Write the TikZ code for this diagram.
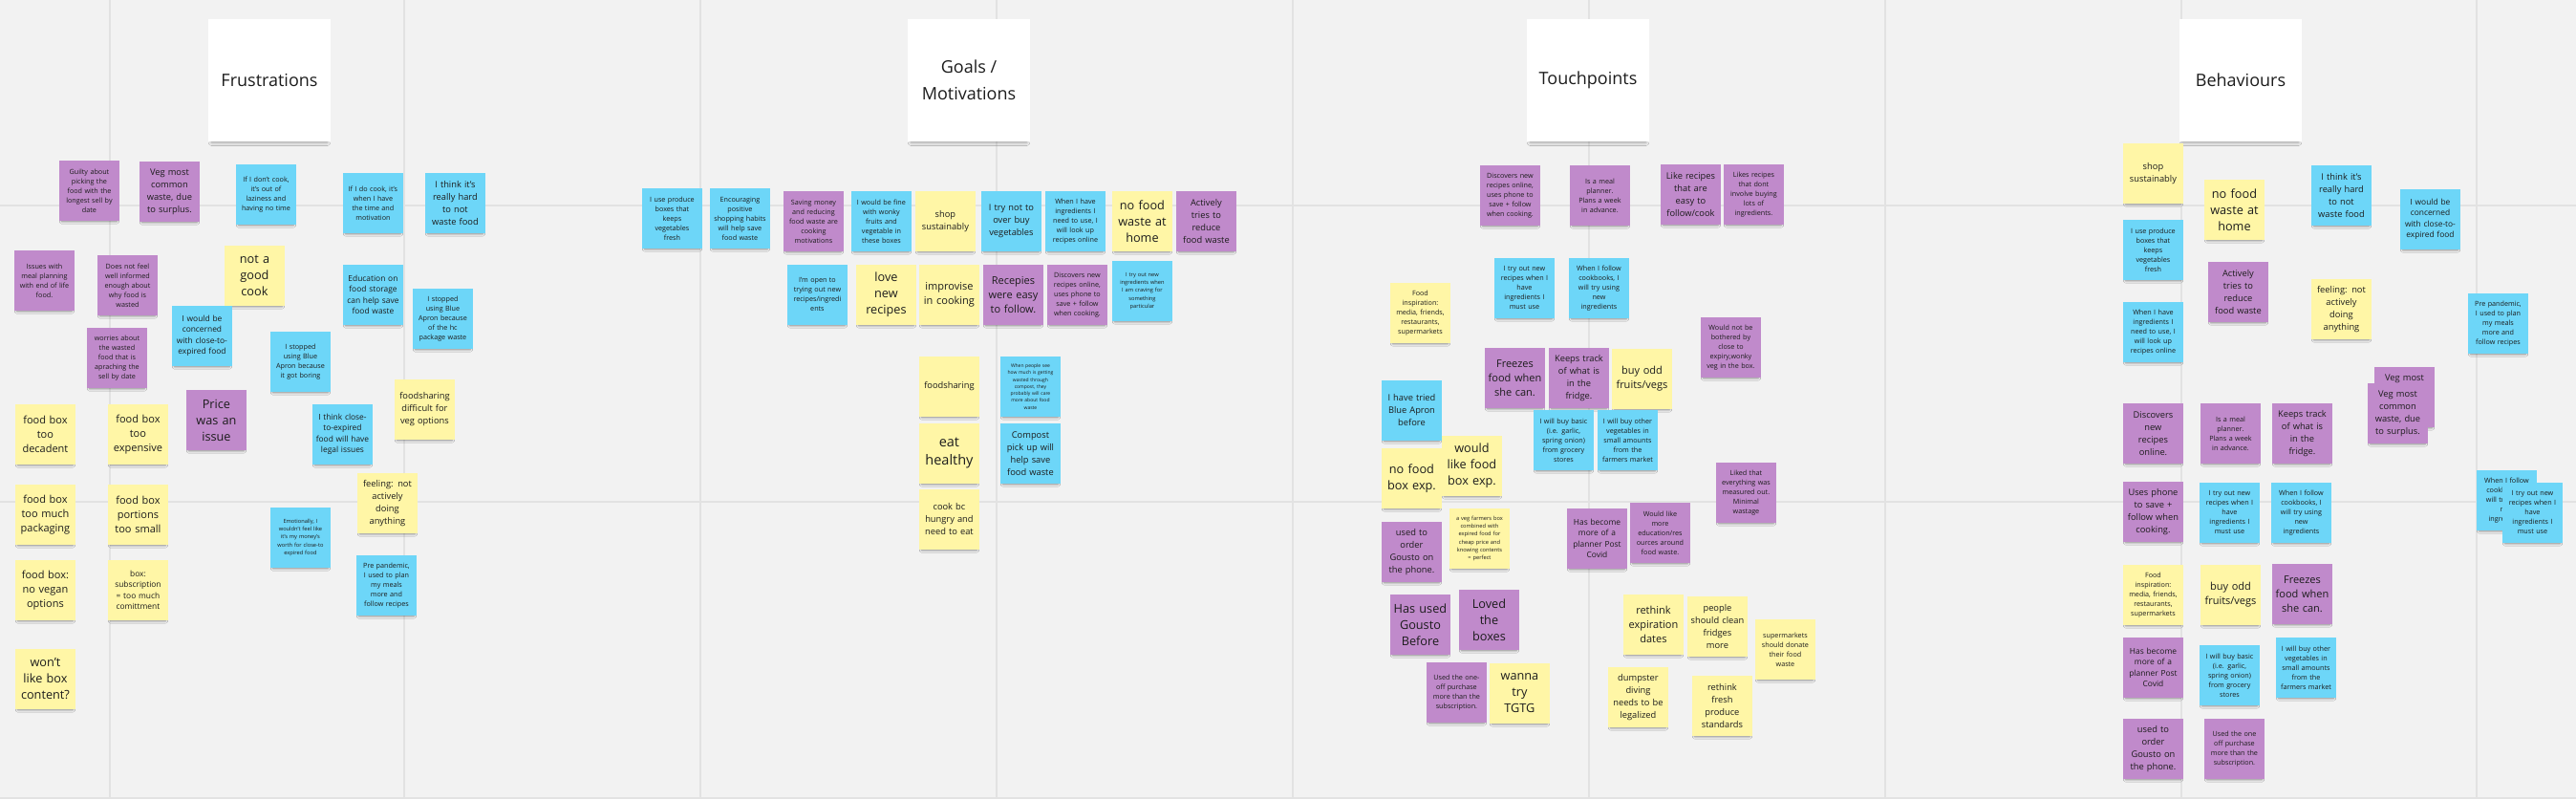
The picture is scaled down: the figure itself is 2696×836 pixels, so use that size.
\documentclass[tikz,border=0pt]{standalone}
\usepackage{fontspec}
\setmainfont{Open Sans}
\usetikzlibrary{shadows,shadows.blur}
\definecolor{bgc}{HTML}{F2F2F2}
\definecolor{gridc}{HTML}{E2E2E2}
\definecolor{noteY}{HTML}{FFF6A6}
\definecolor{noteB}{HTML}{6DD6F8}
\definecolor{noteP}{HTML}{C08ACB}
\definecolor{txt}{HTML}{1C1C1C}
\tikzset{
  gridl/.style={draw=gridc, line width=2pt},
  sticky/.style={anchor=north west, minimum width=62.5pt, minimum height=62.5pt,
    inner sep=0pt, text width=60pt, align=center, text=txt,
    blur shadow={shadow xshift=0pt, shadow yshift=-4pt, shadow blur radius=2.5pt,
      shadow blur steps=5, shadow opacity=45, shadow scale=0.92}},
  yel/.style={fill=noteY},
  blu/.style={fill=noteB},
  pur/.style={fill=noteP},
  fXXL/.style={font=\fontsize{14.5}{19}\selectfont},
  fXL/.style={font=\fontsize{12.7}{17}\selectfont},
  fL/.style={font=\fontsize{11}{15}\selectfont},
  fM/.style={font=\fontsize{9.3}{13}\selectfont},
  fMS/.style={font=\fontsize{8.4}{11.5}\selectfont},
  fS/.style={font=\fontsize{7.2}{10}\selectfont},
  fXS/.style={font=\fontsize{5.7}{8.2}\selectfont},
  fXXS/.style={font=\fontsize{5}{7.3}\selectfont},
  headcard/.style={fill=white, minimum width=128pt, minimum height=128pt, inner sep=0pt,
    align=center, text=txt, font=\fontsize{18}{28}\selectfont,
    blur shadow={shadow xshift=0pt, shadow yshift=-5pt, shadow blur radius=4pt,
      shadow blur steps=6, shadow opacity=40, shadow scale=0.94}},
}
\begin{document}
\begin{tikzpicture}[x=1pt,y=-1pt]
\fill[bgc] (0,0) rectangle (2696,836);
\useasboundingbox (0,0) rectangle (2696,836);
\foreach \gx in {115,423,733,1043,1353,1663,1973,2283,2592} {\draw[gridl] (\gx,0) -- (\gx,836);}
\foreach \gy in {215,525,835} {\draw[gridl] (0,\gy) -- (2696,\gy);}

% headers
\node[headcard] (h1) at (282,84) {Frustrations};
\node[headcard] (h2) at (1014,84) {Goals /\\Motivations};
\node[headcard] (h3) at (1662,84) {Touchpoints};
\node[headcard] (h4) at (2345,84) {Behaviours};

% Frustrations
\node[sticky,pur,fS] (n1) at (62,168) {Guilty about\\picking the\\food with the\\longest sell by\\date};
\node[sticky,pur,fM] (n2) at (146,169) {Veg most\\common\\waste, due\\to surplus.};
\node[sticky,blu,fS] (n3) at (247,172) {If I don't cook,\\it's out of\\laziness and\\having no time};
\node[sticky,blu,fS] (n4) at (359,181) {If I do cook, it's\\when I have\\the time and\\motivation};
\node[sticky,blu,fM] (n5) at (445,181) {I think it's\\really hard\\to not\\waste food};
\node[sticky,pur,fS] (n6) at (15,262) {Issues with\\meal planning\\with end of life\\food.};
\node[sticky,pur,fS] (n7) at (102,267) {Does not feel\\well informed\\enough about\\why food is\\wasted};
\node[sticky,yel,fXL] (n8) at (235,257) {not a\\good\\cook};
\node[sticky,blu,fMS] (n9) at (359,277) {Education on\\food storage\\can help save\\food waste};
\node[sticky,blu,fS] (n10) at (432,302) {I stopped\\using Blue\\Apron because\\of the hc\\package waste};
\node[sticky,pur,fS] (n11) at (91,343) {worries about\\the wasted\\food that is\\apraching the\\sell by date};
\node[sticky,blu,fMS] (n12) at (180,320) {I would be\\concerned\\with close-to-\\expired food};
\node[sticky,blu,fS] (n13) at (283,347) {I stopped\\using Blue\\Apron because\\it got boring};
\node[sticky,yel,fL] (n14) at (16,423) {food box\\too\\decadent};
\node[sticky,yel,fL] (n15) at (113,423) {food box\\too\\expensive};
\node[sticky,pur,fXL] (n16) at (195,408) {Price\\was an\\issue};
\node[sticky,blu,fMS] (n17) at (327,423) {I think close-\\to-expired\\food will have\\legal issues};
\node[sticky,yel,fM] (n18) at (413,397) {foodsharing\\difficult for\\veg options};
\node[sticky,yel,fM] (n19) at (374,495) {feeling: not\\actively\\doing\\anything};
\node[sticky,yel,fL] (n20) at (16,507) {food box\\too much\\packaging};
\node[sticky,yel,fL] (n21) at (113,507) {food box\\portions\\too small};
\node[sticky,blu,fXS] (n22) at (283,531) {Emotionally, I\\wouldn't feel like\\it's my money's\\worth for close-to\\expired food};
\node[sticky,blu,fS] (n23) at (373,581) {Pre pandemic,\\I used to plan\\my meals\\more and\\follow recipes};
\node[sticky,yel,fL] (n24) at (16,586) {food box:\\no vegan\\options};
\node[sticky,yel,fMS] (n25) at (113,586) {box:\\subscription\\= too much\\comittment};
\node[sticky,yel,fXL] (n26) at (16,679) {won't\\like box\\content?};

% Goals / Motivations
\node[sticky,blu,fS] (n27) at (672,197) {I use produce\\boxes that\\keeps\\vegetables\\fresh};
\node[sticky,blu,fS] (n28) at (743,197) {Encouraging\\positive\\shopping habits\\will help save\\food waste};
\node[sticky,pur,fS] (n29) at (820,200) {Saving money\\and reducing\\food waste are\\cooking\\motivations};
\node[sticky,blu,fS] (n30) at (824,277) {I'm open to\\trying out new\\recipes/ingredi\\ents};
\node[sticky,blu,fS] (n31) at (891,200) {I would be fine\\with wonky\\fruits and\\vegetable in\\these boxes};
\node[sticky,yel,fXL] (n32) at (896,277) {love\\new\\recipes};
\node[sticky,yel,fM] (n33) at (958,200) {shop\\sustainably};
\node[sticky,blu,fM] (n34) at (1027,200) {I try not to\\over buy\\vegetables};
\node[sticky,blu,fS] (n35) at (1094,200) {When I have\\ingredients I\\need to use, I\\will look up\\recipes online};
\node[sticky,yel,fXL] (n36) at (1164,200) {no food\\waste at\\home};
\node[sticky,pur,fM] (n37) at (1231,200) {Actively\\tries to\\reduce\\food waste};
\node[sticky,yel,fL] (n38) at (962,277) {improvise\\in cooking};
\node[sticky,pur,fL] (n39) at (1029,277) {Recepies\\were easy\\to follow.};
\node[sticky,pur,fS] (n40) at (1096,277) {Discovers new\\recipes online,\\uses phone to\\save + follow\\when cooking.};
\node[sticky,blu,fXS] (n41) at (1164,273) {I try out new\\ingredients when\\I am craving for\\something\\particular};
\node[sticky,yel,fM] (n42) at (962,373) {foodsharing};
\node[sticky,blu,fXXS] (n43) at (1047,373) {When people see\\how much is getting\\wasted through\\compost, they\\probably will care\\more about food\\waste};
\node[sticky,yel,fXXL] (n44) at (962,443) {eat\\healthy};
\node[sticky,blu,fM] (n45) at (1047,443) {Compost\\pick up will\\help save\\food waste};
\node[sticky,yel,fM] (n46) at (962,512) {cook bc\\hungry and\\need to eat};

% Touchpoints
\node[sticky,pur,fS] (n47) at (1549,173) {Discovers new\\recipes online,\\uses phone to\\save + follow\\when cooking.};
\node[sticky,pur,fS] (n48) at (1643,173) {Is a meal\\planner.\\Plans a week\\in advance.};
\node[sticky,pur,fM] (n49) at (1738,172) {Like recipes\\that are\\easy to\\follow/cook};
\node[sticky,pur,fS] (n50) at (1804,172) {Likes recipes\\that dont\\involve buying\\lots of\\ingredients.};
\node[sticky,blu,fS] (n51) at (1564,270) {I try out new\\recipes when I\\have\\ingredients I\\must use};
\node[sticky,blu,fS] (n52) at (1642,270) {When I follow\\cookbooks, I\\will try using\\new\\ingredients};
\node[sticky,yel,fS] (n53) at (1455,296) {Food\\inspiration:\\media, friends,\\restaurants,\\supermarkets};
\node[sticky,pur,fS] (n54) at (1780,332) {Would not be\\bothered by\\close to\\expiry,wonky\\veg in the box.};
\node[sticky,pur,fL] (n55) at (1554,364) {Freezes\\food when\\she can.};
\node[sticky,pur,fM] (n56) at (1621,364) {Keeps track\\of what is\\in the\\fridge.};
\node[sticky,yel,fL] (n57) at (1687,365) {buy odd\\fruits/vegs};
\node[sticky,blu,fM] (n58) at (1446,398) {I have tried\\Blue Apron\\before};
\node[sticky,blu,fS] (n59) at (1605,429) {I will buy basic\\(i.e. garlic,\\spring onion)\\from grocery\\stores};
\node[sticky,blu,fS] (n60) at (1672,429) {I will buy other\\vegetables in\\small amounts\\from the\\farmers market};
\node[sticky,yel,fXL] (n61) at (1509,456) {would\\like food\\box exp.};
\node[sticky,yel,fXL] (n62) at (1446,469) {no food\\box exp.};
\node[sticky,pur,fM] (n63) at (1446,546) {used to\\order\\Gousto on\\the phone.};
\node[sticky,yel,fXS] (n64) at (1517,532) {a veg farmers box\\combined with\\expired food for\\cheap price and\\knowing contents\\= perfect};
\node[sticky,pur,fMS] (n65) at (1640,532) {Has become\\more of a\\planner Post\\Covid};
\node[sticky,pur,fS] (n66) at (1706,526) {Would like\\more\\education/res\\ources around\\food waste.};
\node[sticky,pur,fXL] (n67) at (1455,622) {Has used\\Gousto\\Before};
\node[sticky,pur,fXL] (n68) at (1527,617) {Loved\\the\\boxes};
\node[sticky,pur,fS] (n69) at (1493,693) {Used the one-\\off purchase\\more than the\\subscription.};
\node[sticky,yel,fXL] (n70) at (1559,694) {wanna\\try\\TGTG};
\node[sticky,yel,fL] (n71) at (1699,622) {rethink\\expiration\\dates};
\node[sticky,yel,fM] (n72) at (1766,624) {people\\should clean\\fridges\\more};
\node[sticky,yel,fM] (n73) at (1683,698) {dumpster\\diving\\needs to be\\legalized};
\node[sticky,yel,fM] (n74) at (1771,707) {rethink\\fresh\\produce\\standards};
\node[sticky,pur,fS] (n75) at (1796,484) {Liked that\\everything was\\measured out.\\Minimal\\wastage};
\node[sticky,yel,fS] (n76) at (1837,648) {supermarkets\\should donate\\their food\\waste};

% Behaviours
\node[sticky,yel,fM] (n77) at (2222,150) {shop\\sustainably};
\node[sticky,blu,fS] (n78) at (2222,230) {I use produce\\boxes that\\keeps\\vegetables\\fresh};
\node[sticky,blu,fS] (n79) at (2222,316) {When I have\\ingredients I\\need to use, I\\will look up\\recipes online};
\node[sticky,pur,fM] (n80) at (2222,422) {Discovers\\new\\recipes\\online.};
\node[sticky,yel,fXL] (n81) at (2307,188) {no food\\waste at\\home};
\node[sticky,pur,fM] (n82) at (2311,274) {Actively\\tries to\\reduce\\food waste};
\node[sticky,blu,fM] (n83) at (2419,173) {I think it's\\really hard\\to not\\waste food};
\node[sticky,blu,fMS] (n84) at (2512,198) {I would be\\concerned\\with close-to-\\expired food};
\node[sticky,yel,fM] (n85) at (2419,292) {feeling: not\\actively\\doing\\anything};
\node[sticky,blu,fS] (n86) at (2583,307) {Pre pandemic,\\I used to plan\\my meals\\more and\\follow recipes};
\node[sticky,pur,fM] (n87) at (2485,384) {Veg most\\common\\waste, due\\to surplus.};
\node[sticky,pur,fM] (n88) at (2478,401) {Veg most\\common\\waste, due\\to surplus.};
\node[sticky,pur,fS] (n89) at (2303,422) {Is a meal\\planner.\\Plans a week\\in advance.};
\node[sticky,pur,fM] (n90) at (2378,422) {Keeps track\\of what is\\in the\\fridge.};
\node[sticky,blu,fS] (n91) at (2592,492) {When I follow\\cookbooks, I\\will try using\\new\\ingredients};
\node[sticky,blu,fS] (n92) at (2619,505) {I try out new\\recipes when I\\have\\ingredients I\\must use};
\node[sticky,pur,fM] (n93) at (2222,504) {Uses phone\\to save +\\follow when\\cooking.};
\node[sticky,blu,fS] (n94) at (2302,505) {I try out new\\recipes when I\\have\\ingredients I\\must use};
\node[sticky,blu,fS] (n95) at (2377,505) {When I follow\\cookbooks, I\\will try using\\new\\ingredients};
\node[sticky,yel,fS] (n96) at (2222,591) {Food\\inspiration:\\media, friends,\\restaurants,\\supermarkets};
\node[sticky,yel,fL] (n97) at (2303,591) {buy odd\\fruits/vegs};
\node[sticky,pur,fL] (n98) at (2378,590) {Freezes\\food when\\she can.};
\node[sticky,pur,fMS] (n99) at (2222,667) {Has become\\more of a\\planner Post\\Covid};
\node[sticky,blu,fS] (n100) at (2302,675) {I will buy basic\\(i.e. garlic,\\spring onion)\\from grocery\\stores};
\node[sticky,blu,fS] (n101) at (2382,667) {I will buy other\\vegetables in\\small amounts\\from the\\farmers market};
\node[sticky,pur,fM] (n102) at (2222,752) {used to\\order\\Gousto on\\the phone.};
\node[sticky,pur,fS] (n103) at (2307,752) {Used the one\\off purchase\\more than the\\subscription.};
\end{tikzpicture}
\end{document}
